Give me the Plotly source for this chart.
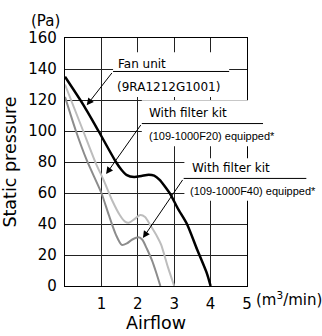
import plotly.graph_objects as go

# Fan unit (9RA1212G1001)
fan_x = [0, 0.5, 0.92, 1.4, 1.55, 1.7, 1.9, 2.1, 2.3, 2.45, 2.6, 2.75, 2.9, 3.1, 3.35, 3.63, 3.9, 4.0]
fan_y = [135, 117, 100, 80, 75, 71.5, 70.3, 71, 71.8, 71.2, 68.5, 64, 59, 50, 40, 23.5, 8, 0]

# With filter kit (109-1000F20)
f20_x = [0, 0.5, 0.85, 1.06, 1.3, 1.5, 1.65, 1.75, 1.9, 2.07, 2.2, 2.35, 2.53, 2.64, 2.83, 3.0]
f20_y = [130, 100, 79, 68.4, 55, 46, 41.5, 40.8, 43, 45.8, 44.5, 39, 32, 26.7, 12, 0]

# With filter kit (109-1000F40)
f40_x = [0, 0.3, 0.6, 1.0, 1.2, 1.4, 1.56, 1.7, 1.85, 2.02, 2.12, 2.25, 2.39, 2.5, 2.62]
f40_y = [122, 100, 81, 60, 46, 33, 26.5, 27.5, 30, 31.5, 30, 24, 16.5, 9, 0]

x_ticks = [1, 2, 3, 4, 5]
y_ticks = [0, 20, 40, 60, 80, 100, 120, 140, 160]

FONT = "DejaVu Sans"
NARROW = "Liberation Sans"

fig = go.Figure()
for xs, ys, color, width in [
    (f40_x, f40_y, "#8c8c8c", 2),
    (f20_x, f20_y, "#bdbdbd", 2),
    (fan_x, fan_y, "#000000", 2.5),
]:
    fig.add_trace(go.Scatter(
        x=xs, y=ys, mode="lines",
        line=dict(color=color, width=width, shape="spline", smoothing=0.7),
        showlegend=False, hoverinfo="skip",
    ))

fig.update_layout(
    width=322, height=336,
    margin=dict(l=65, r=75, t=38, b=50),
    plot_bgcolor="white", paper_bgcolor="white",
    font=dict(family=FONT, size=15, color="black"),
)
fig.update_xaxes(
    range=[0, 5], tickvals=x_ticks, ticktext=[str(v) for v in x_ticks],
    showgrid=True, gridcolor="#222", gridwidth=1,
    showline=True, linecolor="black", linewidth=1.3, mirror=True,
    ticks="", zeroline=False, ticklabelstandoff=4, automargin=False,
    title=dict(text="Airflow", font=dict(size=17.5), standoff=0),
)
fig.update_yaxes(
    range=[0, 160], tickvals=y_ticks,
    showgrid=True, gridcolor="#222", gridwidth=1,
    showline=True, linecolor="black", linewidth=1.3, mirror=True,
    ticks="", zeroline=False, ticklabelstandoff=4, automargin=False,
    title=dict(text="Static pressure", font=dict(size=17.5), standoff=8),
)

# white label boxes that hide the grid (paper x = data x / 5)
boxes = [
    (1.32, 4.51, 121.9, 150.8),
    (2.11, 5.75, 90.2, 119.8),
    (3.28, 6.96, 55.0, 82.5),
]
for x0, x1, y0, y1 in boxes:
    fig.add_shape(type="rect", xref="paper", yref="y", x0=x0 / 5, x1=x1 / 5, y0=y0, y1=y1,
                  fillcolor="white", line_width=0, layer="above")

# underlines
for x0, x1, y in [(1.32, 4.51, 138.4), (2.11, 5.44, 104.8), (3.26, 6.63, 69.4)]:
    fig.add_shape(type="line", xref="paper", yref="y", x0=x0 / 5, x1=x1 / 5, y0=y, y1=y,
                  line=dict(color="black", width=1), layer="above")

labels = [
    (1.40, 143.5, "Fan unit", FONT, 12),
    (1.38, 128.7, "(9RA1212G1001)", FONT, 12),
    (2.26, 111.4, "With filter kit", FONT, 12),
    (2.26, 96.6, "(109-1000F20) equipped*", NARROW, 11),
    (3.44, 76.0, "With filter kit", FONT, 12),
    (3.38, 61.3, "(109-1000F40) equipped*", NARROW, 11),
]
for x, y, text, fam, size in labels:
    fig.add_annotation(xref="paper", yref="y", x=x / 5, y=y, text=text, showarrow=False,
                       xanchor="left", yanchor="middle", font=dict(family=fam, size=size))

# leader arrows: tail -> tip
for tail, tip in [((1.32, 138.4), (0.597, 116.6)),
                  ((2.11, 104.8), (1.13, 72.2)),
                  ((3.26, 69.4), (2.14, 30.9))]:
    fig.add_annotation(x=tip[0], y=tip[1], ax=tail[0], ay=tail[1], axref="x", ayref="y",
                       xref="x", yref="y", text="", showarrow=True,
                       arrowhead=2, arrowsize=1.4, arrowwidth=1, arrowcolor="black", standoff=0)

fig.add_annotation(xref="paper", yref="paper", x=-0.105, y=1.07, text="(Pa)", showarrow=False,
                   xanchor="center", yanchor="middle", font=dict(size=15))
fig.add_annotation(xref="paper", yref="paper", x=1.037, y=-0.053, text="(m<sup>3</sup>/min)",
                   showarrow=False, xanchor="left", yanchor="middle", font=dict(size=15))

# the page's default body margin would push the 322x336 figure out of the window
fig.write_html("out.html", config={"displayModeBar": False},
               post_script="document.body.style.margin='0';")
